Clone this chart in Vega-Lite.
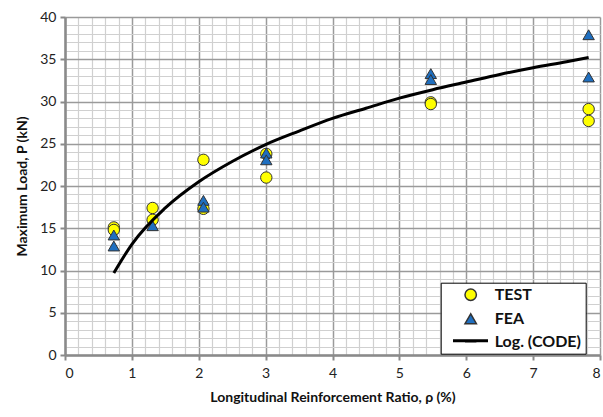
{
  "$schema": "https://vega.github.io/schema/vega-lite/v6.json",
  "width": 535,
  "height": 338,
  "autosize": "none",
  "padding": {"left": 65, "top": 17, "right": 3, "bottom": 62},
  "config": {
    "view": {"stroke": null},
    "font": "Lato",
    "axis": {"labelFont": "Lato", "titleFont": "Lato"}
  },
  "encoding": {
    "x": {
      "field": "rho", "type": "quantitative",
      "scale": {"domain": [0, 8], "nice": false, "zero": true},
      "axis": {
        "title": "Longitudinal Reinforcement Ratio, ρ (%)",
        "titleFontSize": 14, "titleFontWeight": "bold", "titleColor": "#111", "titlePadding": 10,
        "values": [0,0.2,0.4,0.6,0.8,1,1.2,1.4,1.6,1.8,2,2.2,2.4,2.6,2.8,3,3.2,3.4,3.6,3.8,4,4.2,4.4,4.6,4.8,5,5.2,5.4,5.6,5.8,6,6.2,6.4,6.6,6.8,7,7.2,7.4,7.6,7.8,8],
        "tickCount": 41,
        "labelExpr": "datum.value % 1 === 0 ? format(datum.value, 'd') : ''",
        "labelOverlap": false,
        "labelFontSize": 14, "labelColor": "#222", "labelPadding": 6,
        "grid": true,
        "gridColor": {"condition": {"test": "datum.value % 1 === 0", "value": "#9a9a9a"}, "value": "#d0d0d0"},
        "gridWidth": {"condition": {"test": "datum.value % 1 === 0", "value": 1.5}, "value": 1.2},
        "domainColor": "#8a8a8a", "domainWidth": 2.5,
        "tickColor": "#8a8a8a", "tickWidth": 2, "tickSize": 5,
        "tickOpacity": {"condition": {"test": "datum.value % 1 === 0", "value": 1}, "value": 0}
      }
    },
    "y": {
      "field": "load", "type": "quantitative",
      "scale": {"domain": [0, 40], "nice": false},
      "axis": {
        "title": "Maximum Load, P (kN)",
        "titleFontSize": 14, "titleFontWeight": "bold", "titleColor": "#111", "titlePadding": 10,
        "values": [0,1,2,3,4,5,6,7,8,9,10,11,12,13,14,15,16,17,18,19,20,21,22,23,24,25,26,27,28,29,30,31,32,33,34,35,36,37,38,39,40],
        "tickCount": 41,
        "labelExpr": "datum.value % 5 === 0 ? format(datum.value, 'd') : ''",
        "labelOverlap": false,
        "labelFontSize": 14, "labelColor": "#222", "labelPadding": 4,
        "grid": true,
        "gridColor": {"condition": {"test": "datum.value % 5 === 0", "value": "#9a9a9a"}, "value": "#d0d0d0"},
        "gridWidth": {"condition": {"test": "datum.value % 5 === 0", "value": 1.5}, "value": 1.2},
        "domainColor": "#8a8a8a", "domainWidth": 2.5,
        "tickColor": "#8a8a8a", "tickWidth": 2, "tickSize": 5,
        "tickOpacity": {"condition": {"test": "datum.value % 5 === 0", "value": 1}, "value": 0}
      }
    }
  },
  "layer": [
    {
      "data": {"values": [
        {"rho": 0.73, "load": 15.1, "series": "TEST"},
        {"rho": 0.73, "load": 14.8, "series": "TEST"},
        {"rho": 1.31, "load": 17.4, "series": "TEST"},
        {"rho": 1.31, "load": 16.0, "series": "TEST"},
        {"rho": 2.07, "load": 23.1, "series": "TEST"},
        {"rho": 2.07, "load": 17.3, "series": "TEST"},
        {"rho": 3.01, "load": 23.8, "series": "TEST"},
        {"rho": 3.01, "load": 21.0, "series": "TEST"},
        {"rho": 5.47, "load": 29.9, "series": "TEST"},
        {"rho": 5.47, "load": 29.7, "series": "TEST"},
        {"rho": 7.83, "load": 29.1, "series": "TEST"},
        {"rho": 7.83, "load": 27.7, "series": "TEST"},
        {"rho": 0.73, "load": 14.2, "series": "FEA"},
        {"rho": 0.73, "load": 12.9, "series": "FEA"},
        {"rho": 1.31, "load": 15.3, "series": "FEA"},
        {"rho": 2.07, "load": 18.3, "series": "FEA"},
        {"rho": 2.07, "load": 17.5, "series": "FEA"},
        {"rho": 3.01, "load": 23.9, "series": "FEA"},
        {"rho": 3.01, "load": 23.1, "series": "FEA"},
        {"rho": 5.47, "load": 33.3, "series": "FEA"},
        {"rho": 5.47, "load": 32.6, "series": "FEA"},
        {"rho": 7.83, "load": 37.9, "series": "FEA"},
        {"rho": 7.83, "load": 32.9, "series": "FEA"}
      ]},
      "mark": {"type": "point", "filled": true, "opacity": 1, "size": 130, "stroke": "#333333", "strokeWidth": 1},
      "encoding": {
        "shape": {
          "field": "series", "type": "nominal",
          "scale": {"domain": ["TEST", "FEA", "Log. (CODE)"], "range": ["circle", "triangle-up", "stroke"]},
          "legend": {
            "title": null,
            "orient": "none",
            "legendX": 375.7,
            "legendY": 265.7,
            "zindex": 1,
            "fillColor": "white",
            "strokeColor": "black",
            "padding": 4,
            "rowPadding": 7,
            "symbolOffset": 18,
            "labelOffset": 16,
            "labelFont": "Lato",
            "labelFontSize": 16,
            "labelFontWeight": "bold",
            "labelColor": "#111",
            "symbolSize": 130
          }
        },
        "fill": {
          "field": "series", "type": "nominal",
          "scale": {"domain": ["TEST", "FEA", "Log. (CODE)"], "range": ["#FFFF00", "#1F6FC0", "black"]},
          "legend": null
        }
      }
    },
    {
      "data": {"values": [
        {"rho": 0.73, "load": 9.7},
        {"rho": 1.0, "load": 13.1},
        {"rho": 1.5, "load": 17.4},
        {"rho": 2.0, "load": 20.5},
        {"rho": 2.5, "load": 22.9},
        {"rho": 3.0, "load": 24.9},
        {"rho": 3.5, "load": 26.5},
        {"rho": 4.0, "load": 28.0},
        {"rho": 4.5, "load": 29.2},
        {"rho": 5.0, "load": 30.4},
        {"rho": 5.5, "load": 31.4},
        {"rho": 6.0, "load": 32.3},
        {"rho": 6.5, "load": 33.2},
        {"rho": 7.0, "load": 34.0},
        {"rho": 7.5, "load": 34.7},
        {"rho": 7.83, "load": 35.2}
      ]},
      "mark": {"type": "line", "strokeWidth": 3, "interpolate": "monotone"},
      "encoding": {
        "stroke": {
          "datum": "Log. (CODE)", "type": "nominal",
          "scale": {"range": ["black"]},
          "legend": {
            "title": null,
            "orient": "none",
            "legendX": 386.5,
            "legendY": 304.7,
            "zindex": 2,
            "padding": 0,
            "symbolType": "stroke",
            "symbolSize": 1225,
            "symbolStrokeWidth": 3,
            "symbolStrokeColor": "black",
            "labelFont": "Lato",
            "labelFontSize": 16,
            "labelExpr": "''",
            "labelOpacity": 0
          }
        }
      }
    }
  ]
}
